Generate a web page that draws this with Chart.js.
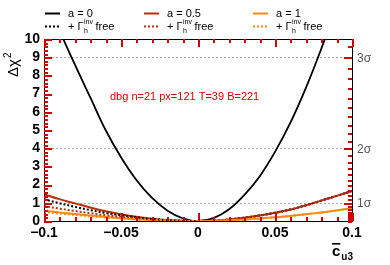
<!DOCTYPE html>
<html>
<head>
<meta charset="utf-8">
<script src="https://cdn.jsdelivr.net/npm/chart.js@4.4.0/dist/chart.umd.min.js"></script>
<style>
  html, body { margin: 0; padding: 0; background: #fff; }
</style>
</head>
<body>
<canvas id="chi2-chart" width="390" height="265"></canvas>
<script>
'use strict';

// DATA

let xLeft = [-0.1, -0.09, -0.08, -0.07, -0.06, -0.05, -0.04, -0.03, -0.02, -0.01, 0];
let xRight = [0, 0.01, 0.02, 0.03, 0.04, 0.05, 0.06, 0.07, 0.08, 0.09, 0.1];

// a = 0, black solid
let blackX = [-0.095, -0.09, -0.08, -0.07, -0.06, -0.05, -0.04, -0.03, -0.02, -0.01, 0, 0.01, 0.02, 0.03, 0.04, 0.05, 0.06, 0.07, 0.08, 0.09];
let blackY = [11.7, 10.5, 8.6, 6.8, 5.0, 3.5, 2.25, 1.28, 0.58, 0.15, 0, 0.16, 0.63, 1.42, 2.45, 3.8, 5.4, 7.3, 9.45, 11.8];

// left halves
let redLeft = [1.47, 1.2, 0.97, 0.74, 0.54, 0.37, 0.23, 0.13, 0.06, 0.015, 0];
let orangeLeft = [0.57, 0.47, 0.38, 0.3, 0.22, 0.16, 0.1, 0.06, 0.03, 0.008, 0];
let blackDotLeft = [1.19, 0.98, 0.78, 0.6, 0.44, 0.31, 0.2, 0.11, 0.05, 0.012, 0];
let redDotLeft = [0.82, 0.68, 0.55, 0.43, 0.32, 0.23, 0.15, 0.08, 0.04, 0.01, 0];
let orangeDotLeft = [0.5, 0.41, 0.33, 0.26, 0.19, 0.14, 0.09, 0.05, 0.025, 0.006, 0];

// right halves (dotted ones sit under the solid ones)
let redRight = [0, 0.02, 0.08, 0.18, 0.3, 0.45, 0.63, 0.86, 1.12, 1.38, 1.65];
let orangeRight = [0, 0.01, 0.04, 0.08, 0.14, 0.2, 0.28, 0.37, 0.47, 0.58, 0.7];

let yTicks = [0, 1, 2, 3, 4, 5, 6, 7, 8, 9, 10];
let xTicks = [-0.1, -0.05, 0, 0.05, 0.1];
let sigmaLines = [1, 4, 9];
let sigmaLabels = ['1σ', '2σ', '3σ'];

let colBlack = '#000000';
let colRed = '#b8300f';
let colOrange = '#ff8a10';

// HELPERS

function toPoints(xs, ys) {
  let pts = [];
  for (let i = 0; i < xs.length; i++) {
    pts.push({ x: xs[i], y: ys[i] });
  }
  return pts;
}

function isTick(list, v) {
  return list.some(t => Math.abs(t - v) < 1e-6);
}

function fmt(v) {
  if (Math.abs(v) < 1e-9) return '0';
  let s = String(Math.round(Math.abs(v) * 1000) / 1000);
  return (v < 0 ? '\u2212' : '') + s;
}

function lineSet(data, color, dotted, width) {
  return {
    data: data,
    borderColor: color,
    borderWidth: width || 2,
    borderDash: dotted ? [2, 2] : [],
    pointRadius: 0,
    fill: false,
    tension: 0.35
  };
}

// frame and inward tick marks
let tickMarks = {
  id: 'tickMarks',
  afterDraw(chart) {
    let c = chart.ctx;
    let a = chart.chartArea;
    let sx = chart.scales.x;
    let sy = chart.scales.y;
    let L = Math.round(a.left);
    let R = Math.round(a.right);
    let T = Math.round(a.top);
    let B = Math.round(a.bottom);
    let count = 0;
    let firstPx = '';
    c.save();
    c.fillStyle = '#000';
    c.fillRect(L, T, R - L + 1, 1);
    c.fillRect(L, B, R - L + 1, 1);
    c.fillRect(L, T, 1, B - T + 1);
    c.fillRect(R, T, 1, B - T + 1);
    c.fillStyle = '#d00000';
    for (let i = 0; i <= 20; i++) {
      let px = Math.round(sx.getPixelForValue(-0.1 + i * 0.01));
      let len = (i % 5 === 0) ? 8 : 4;
      c.fillRect(px, B - len, 2, len);
      c.fillRect(px, T, 2, len);
      count++;
      if (i === 5) firstPx = px;
    }
    for (let i = 0; i <= 50; i++) {
      let py = Math.round(sy.getPixelForValue(i * 0.2));
      let len = (i % 5 === 0) ? 8 : 4;
      c.fillRect(L, py, len, 2);
    }
    for (let i = 1; i <= 31; i++) {
      let s = i * 0.1;
      if (s * s > 10) break;
      let py = Math.round(sy.getPixelForValue(s * s));
      let len = (i % 10 === 0) ? 8 : 4;
      c.fillRect(R - len, py, len, 2);
    }
    c.font = '11px sans-serif';
    c.fillText('dbg n=' + count + ' px=' + firstPx + ' T=' + T + ' B=' + B, 110, 100);
    c.restore();
  }
};

// sigma lines and labels, legend, titles
let extras = {
  id: 'extras',
  beforeDatasetsDraw(chart) {
    let c = chart.ctx;
    let a = chart.chartArea;
    let ys = chart.scales.y;
    c.save();
    c.strokeStyle = '#aaaaaa';
    c.lineWidth = 1;
    c.setLineDash([2, 2]);
    for (let i = 0; i < sigmaLines.length; i++) {
      let py = Math.round(ys.getPixelForValue(sigmaLines[i])) + 0.5;
      c.beginPath();
      c.moveTo(a.left, py);
      c.lineTo(a.right, py);
      c.stroke();
    }
    c.restore();
  },
  afterDraw(chart) {
    let c = chart.ctx;
    let a = chart.chartArea;
    let ys = chart.scales.y;
    c.save();

    c.fillStyle = '#555';
    c.font = '12px "Liberation Sans", Arial, sans-serif';
    c.textAlign = 'left';
    c.textBaseline = 'middle';
    for (let i = 0; i < sigmaLines.length; i++) {
      c.fillText(sigmaLabels[i], a.right + 5, ys.getPixelForValue(sigmaLines[i]) + 1);
    }

    c.fillStyle = '#000';
    c.save();
    c.translate(18, a.top + 38);
    c.rotate(-Math.PI / 2);
    c.font = '15px "Liberation Sans", Arial, sans-serif';
    c.textAlign = 'left';
    c.textBaseline = 'alphabetic';
    c.fillText('\u0394\u03c7', 0, 0);
    let w = c.measureText('\u0394\u03c7').width;
    c.font = '10px "Liberation Sans", Arial, sans-serif';
    c.fillText('2', w + 1, -7);
    c.restore();

    c.font = 'bold 15px "Liberation Sans", Arial, sans-serif';
    c.textAlign = 'left';
    c.textBaseline = 'alphabetic';
    let tx = 332;
    let ty = 256;
    c.fillText('c', tx, ty);
    let cw = c.measureText('c').width;
    c.fillRect(tx, ty - 13, cw, 1.6);
    c.font = 'bold 10px "Liberation Sans", Arial, sans-serif';
    c.fillText('u3', tx + cw + 1, ty + 4);

    let cols = [45, 144, 253];
    let colors = [colBlack, colRed, colOrange];
    let names = ['a = 0', 'a = 0.5', 'a = 1'];
    for (let i = 0; i < 3; i++) {
      let x0 = cols[i];
      c.strokeStyle = colors[i];
      c.lineWidth = 2;
      c.setLineDash([]);
      c.beginPath();
      c.moveTo(x0, 13.5);
      c.lineTo(x0 + 15, 13.5);
      c.stroke();
      c.setLineDash([2, 2]);
      c.beginPath();
      c.moveTo(x0, 26.5);
      c.lineTo(x0 + 15, 26.5);
      c.stroke();
      c.setLineDash([]);

      c.fillStyle = '#000';
      c.font = '11px "Liberation Sans", Arial, sans-serif';
      c.textBaseline = 'middle';
      c.fillText(names[i], x0 + 23, 14);
      let lx = x0 + 23;
      c.fillText('+ \u0393', lx, 27);
      let gw = c.measureText('+ \u0393').width;
      c.font = '7px "Liberation Sans", Arial, sans-serif';
      c.fillText('inv', lx + gw + 0.5, 22.5);
      c.fillText('h', lx + gw + 0.5, 31);
      let iw = c.measureText('inv').width;
      c.font = '11px "Liberation Sans", Arial, sans-serif';
      c.fillText('free', lx + gw + iw + 3, 27);
    }
    c.restore();
  }
};

// CHART

let canvasEl = document.getElementById('chi2-chart');

let chartObject = {
  type: 'line',
  data: {
    datasets: [
      lineSet(toPoints(xLeft, orangeDotLeft), colOrange, true),
      lineSet(toPoints(xRight, orangeRight), colOrange, true),
      lineSet(toPoints(xLeft, redDotLeft), colRed, true),
      lineSet(toPoints(xRight, redRight), colRed, true),
      lineSet(toPoints(xLeft, blackDotLeft), colBlack, true),
      lineSet(toPoints(xRight, redRight), colBlack, true),
      lineSet(toPoints(xLeft.concat(xRight.slice(1)), orangeLeft.concat(orangeRight.slice(1))), colOrange, false),
      lineSet(toPoints(xLeft.concat(xRight.slice(1)), redLeft.concat(redRight.slice(1))), colRed, false),
      lineSet(toPoints(blackX, blackY), colBlack, false, 1.8)
    ]
  },
  options: {
    responsive: false,
    animation: false,
    events: [],
    layout: { padding: { top: 39, right: 38, left: 0, bottom: 0 } },
    plugins: {
      legend: { display: false },
      tooltip: { enabled: false }
    },
    scales: {
      x: {
        type: 'linear',
        min: -0.1,
        max: 0.1,
        afterFit(s) { s.height = 44; },
        grid: { display: false, drawTicks: false },
        border: { display: false },
        ticks: {
          stepSize: 0.05,
          padding: 4,
          color: '#000',
          maxRotation: 0,
          autoSkip: false,
          font: { family: '"Liberation Sans", Arial, sans-serif', size: 14, weight: 'bold' },
          callback: v => isTick(xTicks, v) ? fmt(v) : ''
        }
      },
      y: {
        min: 0,
        max: 10,
        afterFit(s) { s.width = 44; },
        grid: { display: false, drawTicks: false },
        border: { display: false },
        ticks: {
          stepSize: 1,
          padding: 4,
          color: '#000',
          autoSkip: false,
          font: { family: '"Liberation Sans", Arial, sans-serif', size: 14, weight: 'bold' },
          callback: v => isTick(yTicks, v) ? fmt(v) : ''
        }
      }
    }
  },
  plugins: [tickMarks, extras]
};

const chi2Chart = new Chart(canvasEl, chartObject);
</script>
</body>
</html>
